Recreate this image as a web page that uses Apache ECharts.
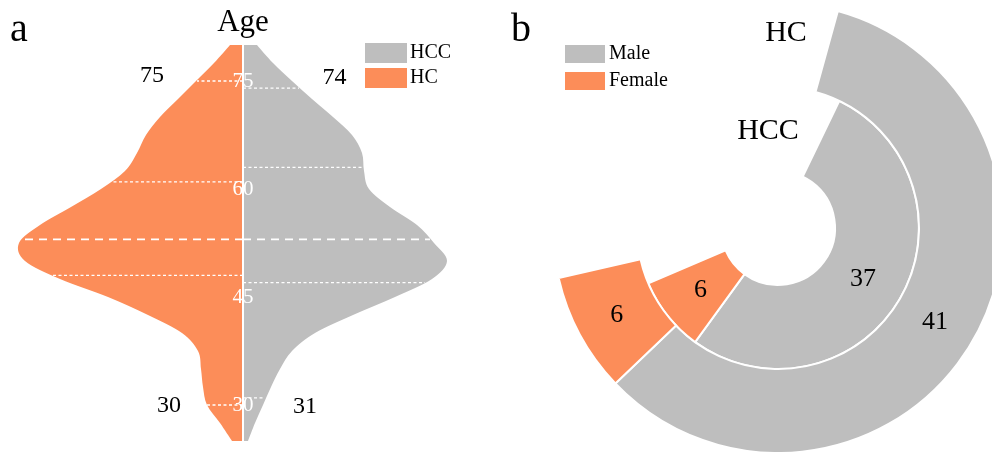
<!DOCTYPE html>
<html>
<head>
<meta charset="utf-8">
<title>Age and sex distribution</title>
<script src="https://cdn.jsdelivr.net/npm/echarts@6/dist/echarts.min.js"></script>
<style>
  html, body { margin: 0; padding: 0; background: #fff; }
  #chart { width: 992px; height: 452px; }
</style>
</head>
<body>
<div id="chart"></div>
<script>
// ---- panel a: split violin of age ----
const ages = [25, 27.5, 30, 32.5, 35, 37.5, 40, 42.5, 45, 47.5, 50, 52.5, 55,
              57.5, 60, 62.5, 65, 67.5, 70, 72.5, 75, 77.5, 80];
const hcDensity = [0.0022, 0.0046, 0.0072, 0.0080, 0.0084, 0.0090, 0.0122, 0.0190,
                   0.0270, 0.0366, 0.0436, 0.0448, 0.0406, 0.0344, 0.0284, 0.0236,
                   0.0212, 0.0194, 0.0166, 0.0130, 0.0094, 0.0058, 0.0026];
const hccDensity = [0.0010, 0.0024, 0.0040, 0.0056, 0.0074, 0.0098, 0.0144, 0.0220,
                    0.0304, 0.0378, 0.0408, 0.0382, 0.0348, 0.0294, 0.0252, 0.0242,
                    0.0238, 0.0218, 0.0180, 0.0138, 0.0098, 0.0060, 0.0028];

// summary lines: [age, density at that age]
const hcStats = { min: [30, 0.0072], q1: [48, 0.0380], median: [53, 0.0446], q3: [61, 0.0262], max: [75, 0.0092] };
const hccStats = { min: [31, 0.0042], q1: [47, 0.0364], median: [53, 0.0374], q3: [63, 0.0240], max: [74, 0.0112] };
const ageTicks = [30, 45, 60, 75];

// ---- panel b: sex composition ----
const groups = ['HCC', 'HC'];          // inner ring -> outer ring
const maleCounts = [37, 41];
const femaleCounts = [6, 6];

const ORANGE = '#FC8D59';
const GREY = '#BEBEBE';
const SERIF = '"Liberation Serif", "Times New Roman", serif';

// where the min / max annotations sit: [density offset, age]
const extremeLabelPos = {
  HC:  { max: [-0.0182, 75.7], min: [-0.0148, 29.9] },
  HCC: { max: [0.0183, 75.4],  min: [0.0124, 29.7] }
};

// Catmull-Rom through the outer edge, closed along the centre line
function halfViolinPath(api, dens, sign) {
  const pts = ages.map((a, i) => api.coord([sign * dens[i], a]));
  const c0 = api.coord([0, ages[0]]);
  const c1 = api.coord([0, ages[ages.length - 1]]);
  let d = 'M' + c0[0] + ' ' + c0[1] + ' L' + pts[0][0] + ' ' + pts[0][1];
  for (let i = 0; i < pts.length - 1; i++) {
    const p0 = pts[Math.max(i - 1, 0)], p1 = pts[i], p2 = pts[i + 1];
    const p3 = pts[Math.min(i + 2, pts.length - 1)];
    const k1 = [p1[0] + (p2[0] - p0[0]) / 6, p1[1] + (p2[1] - p0[1]) / 6];
    const k2 = [p2[0] - (p3[0] - p1[0]) / 6, p2[1] - (p3[1] - p1[1]) / 6];
    d += ' C' + k1[0] + ' ' + k1[1] + ' ' + k2[0] + ' ' + k2[1] + ' ' + p2[0] + ' ' + p2[1];
  }
  d += ' L' + c1[0] + ' ' + c1[1] + ' Z';
  return d;
}

function violinSeries(name, dens, sign, color) {
  return {
    name: name,
    type: 'custom',
    xAxisIndex: 0, yAxisIndex: 0,
    itemStyle: { color: color },
    data: [[0, ages[0]]],
    renderItem: function (params, api) {
      return {
        type: 'path',
        shape: { pathData: halfViolinPath(api, dens, sign) },
        style: { fill: color }
      };
    },
    z: 2
  };
}

function statsSeries(name, stats, sign) {
  return {
    name: name + ' summary',
    type: 'custom',
    xAxisIndex: 0, yAxisIndex: 0,
    silent: true,
    data: [[0, ages[0]]],
    renderItem: function (params, api) {
      const children = [];
      ['min', 'q1', 'median', 'q3', 'max'].forEach(function (k) {
        const s = stats[k];
        const a = api.coord([0, s[0]]);
        const b = api.coord([sign * s[1], s[0]]);
        const isMedian = k === 'median';
        children.push({
          type: 'line',
          shape: { x1: a[0], y1: a[1], x2: b[0], y2: b[1] },
          style: {
            stroke: '#ffffff',
            lineWidth: isMedian ? 1.8 : 1.3,
            lineDash: isMedian ? [8, 6] : [3, 2.5]
          }
        });
      });
      ['max', 'min'].forEach(function (k) {
        const pos = api.coord(extremeLabelPos[name][k]);
        children.push({
          type: 'text',
          x: pos[0], y: pos[1],
          style: {
            text: String(stats[k][0]),
            fill: '#000',
            font: '24px ' + SERIF,
            align: 'center',
            verticalAlign: 'middle'
          }
        });
      });
      return { type: 'group', children: children };
    },
    z: 3
  };
}

// white age ticks written on the centre line
const ageTickSeries = {
  name: 'age ticks',
  type: 'custom',
  xAxisIndex: 0, yAxisIndex: 0,
  silent: true,
  data: ageTicks.map(t => [0, t]),
  renderItem: function (params, api) {
    const p = api.coord([api.value(0), api.value(1)]);
    return {
      type: 'text',
      x: p[0], y: p[1],
      style: {
        text: String(api.value(1)),
        fill: '#ffffff',
        font: '21px ' + SERIF,
        align: 'center',
        verticalAlign: 'middle'
      }
    };
  },
  z: 12
};

const spacer = groups.map((g, i) => 26.5 - (maleCounts[i] + femaleCounts[i]) / 2);

const ringLabel = {
  show: true,
  position: 'middle',
  rotate: 0,
  color: '#000',
  fontSize: 26,
  fontFamily: SERIF,
  formatter: '{c}'
};

const legendBase = {
  orient: 'vertical', top: 43, padding: 0,
  itemWidth: 42, itemHeight: 20, itemGap: 5,
  icon: 'rect', selectedMode: false,
  textStyle: { fontSize: 20, fontFamily: SERIF, color: '#000', padding: [0, 0, 0, -2] }
};

const chart = echarts.init(document.getElementById('chart'), null, { renderer: 'canvas' });

chart.setOption({
  animation: false,
  backgroundColor: '#ffffff',
  textStyle: { fontFamily: SERIF },
  grid: { left: 13, width: 460, top: 45, height: 396 },
  xAxis: {
    type: 'value', min: -0.046, max: 0.046, show: false
  },
  yAxis: {
    type: 'value', min: 25, max: 80, interval: 5,
    z: 10,
    axisLine: { show: true, onZero: true, lineStyle: { color: '#ffffff', width: 2 } },
    axisTick: { show: false },
    splitLine: { show: false },
    axisLabel: { show: false }
  },
  polar: { center: [778, 228], radius: [57, 225] },
  angleAxis: {
    type: 'value', min: 0, max: 70, startAngle: 90, clockwise: true, show: false
  },
  radiusAxis: { type: 'category', data: groups, show: false },
  legend: [
    Object.assign({}, legendBase, { data: ['HCC', 'HC'], left: 365 }),
    Object.assign({}, legendBase, { data: ['Male', 'Female'], left: 563 })
  ],
  graphic: [
    { type: 'text', x: 10, y: 30, style: { text: 'a', font: '40px ' + SERIF, fill: '#000', verticalAlign: 'middle' } },
    { type: 'text', x: 243, y: 23, style: { text: 'Age', font: '31px ' + SERIF, fill: '#000', align: 'center', verticalAlign: 'middle' } },
    { type: 'text', x: 511, y: 30, style: { text: 'b', font: '40px ' + SERIF, fill: '#000', verticalAlign: 'middle' } },
    { type: 'text', x: 786, y: 33, style: { text: groups[1], font: '30px ' + SERIF, fill: '#000', align: 'center', verticalAlign: 'middle' } },
    { type: 'text', x: 768, y: 131, style: { text: groups[0], font: '30px ' + SERIF, fill: '#000', align: 'center', verticalAlign: 'middle' } }
  ],
  series: [
    violinSeries('HC', hcDensity, -1, ORANGE),
    violinSeries('HCC', hccDensity, 1, GREY),
    statsSeries('HC', hcStats, -1),
    statsSeries('HCC', hccStats, 1),
    ageTickSeries,
    {
      name: 'offset',
      type: 'bar', coordinateSystem: 'polar', stack: 'ring',
      barCategoryGap: '0%',
      silent: true,
      itemStyle: { color: 'rgba(0,0,0,0)', borderWidth: 0 },
      data: spacer
    },
    {
      name: 'Male',
      type: 'bar', coordinateSystem: 'polar', stack: 'ring',
      barCategoryGap: '0%',
      itemStyle: { color: GREY, borderColor: '#ffffff', borderWidth: 2 },
      label: ringLabel,
      data: maleCounts
    },
    {
      name: 'Female',
      type: 'bar', coordinateSystem: 'polar', stack: 'ring',
      barCategoryGap: '0%',
      itemStyle: { color: ORANGE, borderColor: '#ffffff', borderWidth: 2 },
      label: ringLabel,
      data: femaleCounts
    }
  ]
});
</script>
</body>
</html>
